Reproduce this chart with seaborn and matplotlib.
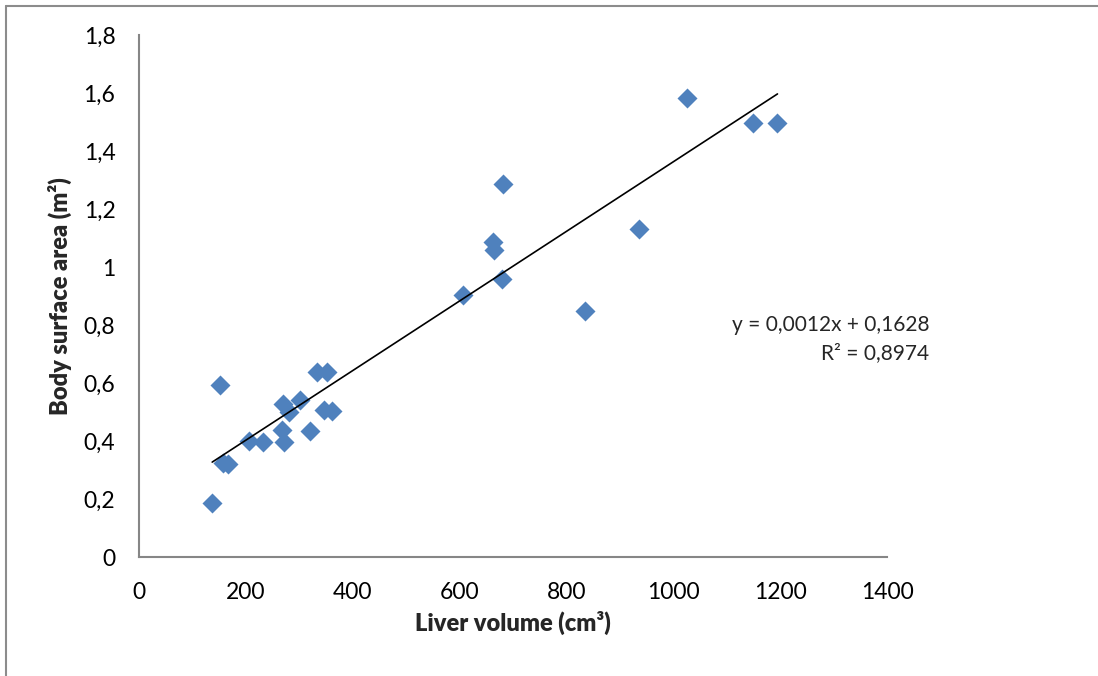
import matplotlib
matplotlib.use("Agg")
import matplotlib.pyplot as plt
from matplotlib.lines import Line2D
import numpy as np
import pandas as pd
import seaborn as sns

# Liver volume (cm³) and body surface area (m²) per subject
liver_volume = [137, 152, 157, 166, 206, 233, 267, 271, 269, 280, 301, 320, 334,
                352, 346, 362, 607, 663, 664, 680, 682, 835, 935, 1026, 1150, 1195]
body_surface = [0.186, 0.593, 0.325, 0.320, 0.400, 0.398, 0.438, 0.396, 0.527,
                0.501, 0.541, 0.436, 0.639, 0.639, 0.507, 0.505, 0.903, 1.087,
                1.059, 0.959, 1.285, 0.848, 1.130, 1.582, 1.495, 1.495]

# Linear trend reported for the data
slope = 0.0012
intercept = 0.1628
r_squared = 0.8974

x_ticks = [0, 200, 400, 600, 800, 1000, 1200, 1400]
y_ticks = [0, 0.2, 0.4, 0.6, 0.8, 1.0, 1.2, 1.4, 1.6, 1.8]

df = pd.DataFrame({"Liver volume": liver_volume, "Body surface area": body_surface})

sns.set_theme(style="white")
plt.rcParams["font.family"] = ["Lato", "DejaVu Sans"]
plt.rcParams["mathtext.default"] = "regular"

fig = plt.figure(figsize=(10.98, 6.76), dpi=100)
ax = fig.add_axes([139 / 1098, 1 - 557 / 676, (887 - 139) / 1098, (557 - 35) / 676])

sns.scatterplot(data=df, x="Liver volume", y="Body surface area", ax=ax,
                marker="D", s=104, color="#4F81BD", linewidth=0, zorder=3)

# trend line across the observed range
xs = np.array([min(liver_volume), max(liver_volume)])
ax.plot(xs, slope * xs + intercept, color="black", linewidth=1.2, zorder=4)


def comma(v):
    return f"{v:g}".replace(".", ",")


ax.set_xlim(0, 1400)
ax.set_ylim(0, 1.8)
ax.set_xticks(x_ticks)
ax.set_xticklabels([comma(v) for v in x_ticks])
ax.set_yticks(y_ticks)
ax.set_yticklabels([comma(v) for v in y_ticks])

axis_grey = "#868686"
for side in ("top", "right"):
    ax.spines[side].set_visible(False)
for side in ("left", "bottom"):
    ax.spines[side].set_color(axis_grey)
    ax.spines[side].set_linewidth(1.5)
ax.tick_params(axis="both", direction="out", length=6, width=1.5, color=axis_grey,
               labelsize=16.5, labelcolor="black")
ax.tick_params(axis="y", pad=11)
ax.tick_params(axis="x", pad=12)
ax.set_facecolor("white")

ax.set_xlabel("Liver volume (cm³)", fontsize=17, fontweight="heavy", labelpad=6)
ax.set_ylabel("Body surface area (m²)", fontsize=17, fontweight="heavy", labelpad=8)

eq = f"y = {comma(slope)}x + {comma(intercept)}\nR² = {comma(r_squared)}"
ax.text(1479, 0.752, eq, transform=ax.transData, ha="right", va="center",
        multialignment="right", fontsize=15, linespacing=1.55, clip_on=False)

# outer frame edges
fig.add_artist(Line2D([6 / 1098, 6 / 1098], [0, 1 - 6 / 676], color="#8c8c8c",
                      linewidth=1.5, transform=fig.transFigure))
fig.add_artist(Line2D([6 / 1098, 1], [1 - 6 / 676, 1 - 6 / 676], color="#8c8c8c",
                      linewidth=1.5, transform=fig.transFigure))

fig.savefig("out.png", dpi=100, facecolor="white")
